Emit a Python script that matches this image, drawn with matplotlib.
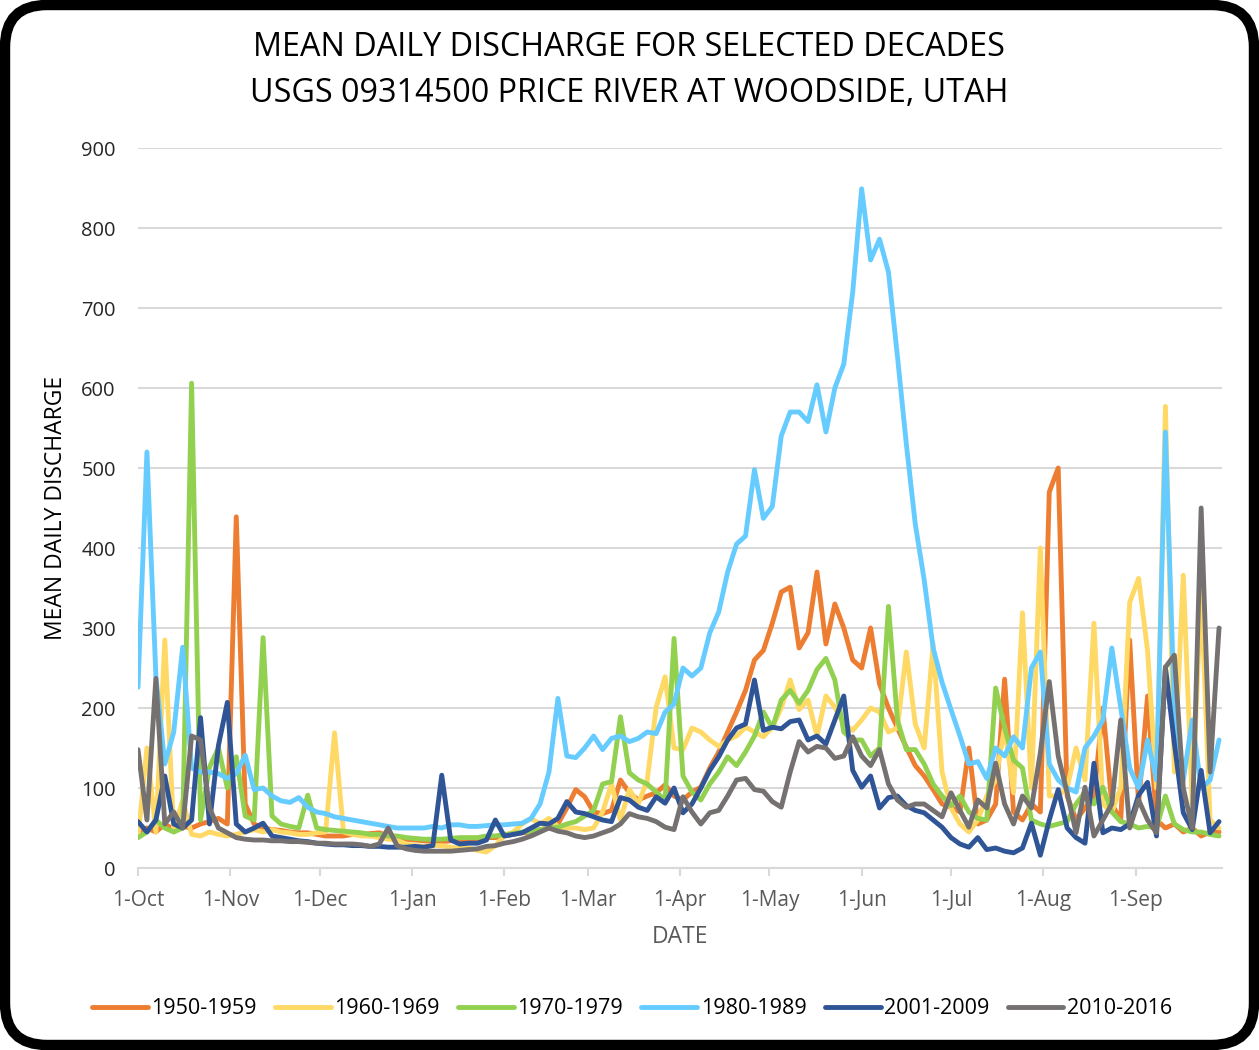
"""
Mean daily discharge for selected decades, Price River at Woodside, Utah.
Values read off the reference chart every third day of the water year.
"""
import numpy as np
import matplotlib
matplotlib.use('Agg')
import matplotlib.pyplot as plt
from matplotlib.patches import FancyBboxPatch

plt.rcParams['font.family'] = ['Open Sans', 'DejaVu Sans']

# day of water year (0 = 1-Oct), every third day
days = list(range(0, 364, 3))

month_starts = [0, 31, 61, 92, 123, 151, 182, 212, 243, 273, 304, 335]
month_labels = ['1-Oct', '1-Nov', '1-Dec', '1-Jan', '1-Feb', '1-Mar',
                '1-Apr', '1-May', '1-Jun', '1-Jul', '1-Aug', '1-Sep']

q_1950s = [45, 50, 45, 55, 48, 52, 50, 55, 58, 62,
           55, 439, 80, 55, 50, 48, 47, 45, 44, 44,
           42, 40, 40, 40, 42, 42, 43, 44, 40, 38,
           36, 35, 34, 33, 33, 34, 35, 36, 36, 38,
           38, 40, 42, 44, 45, 48, 50, 55, 75, 98,
           89, 70, 68, 72, 110, 94, 85, 90, 94, 104,
           90, 85, 95, 101, 125, 145, 170, 195, 222, 260,
           272, 306, 345, 351, 275, 294, 370, 280, 330, 300,
           260, 250, 300, 230, 200, 175, 151, 128, 115, 98,
           80, 76, 70, 150, 55, 60, 80, 236, 70, 60,
           80, 70, 470, 500, 90, 60, 75, 90, 200, 80,
           60, 285, 80, 215, 60, 50, 55, 45, 50, 40,
           45, 45]

q_1960s = [38, 150, 45, 285, 45, 85, 42, 40, 45, 42,
           40, 42, 45, 48, 45, 48, 45, 44, 42, 42,
           44, 45, 169, 45, 42, 40, 40, 38, 36, 35,
           30, 28, 27, 28, 28, 26, 25, 25, 22, 20,
           28, 40, 45, 55, 62, 55, 62, 52, 50, 50,
           48, 50, 70, 105, 60, 98, 80, 110, 201, 239,
           150, 148, 175, 170, 160, 152, 160, 165, 176, 170,
           164, 176, 200, 235, 198, 210, 165, 215, 201, 180,
           172, 185, 200, 195, 170, 175, 270, 180, 150, 280,
           120, 75, 55, 45, 60, 90, 110, 176, 94, 319,
           100, 400, 90, 90, 100, 150, 110, 306, 80, 70,
           100, 332, 362, 272, 100, 577, 120, 366, 80, 347,
           60, 50]

q_1970s = [38, 45, 60, 50, 45, 50, 606, 60, 126, 150,
           100, 139, 65, 60, 288, 65, 55, 52, 50, 91,
           50, 48, 47, 46, 45, 44, 42, 42, 40, 40,
           38, 37, 36, 36, 36, 37, 38, 38, 38, 40,
           40, 42, 43, 45, 46, 48, 50, 51, 55, 58,
           65, 72, 105, 108, 189, 119, 110, 105, 95, 85,
           287, 115, 95, 85, 105, 120, 139, 128, 145, 165,
           195, 175, 210, 222, 206, 222, 248, 262, 235, 170,
           160, 160, 140, 150, 327, 185, 148, 148, 130, 105,
           90, 78, 90, 70, 62, 60, 225, 175, 135, 125,
           60, 55, 52, 55, 58, 80, 95, 80, 101, 70,
           58, 55, 50, 52, 50, 90, 55, 48, 45, 45,
           42, 40]

q_1980s = [226, 520, 240, 130, 170, 276, 125, 120, 120, 118,
           112, 118, 141, 98, 100, 90, 84, 82, 88, 76,
           70, 68, 64, 62, 60, 58, 56, 54, 52, 50,
           50, 50, 50, 52, 50, 54, 54, 52, 52, 53,
           54, 54, 55, 56, 62, 80, 120, 212, 140, 138,
           150, 165, 148, 162, 165, 158, 162, 170, 168, 195,
           205, 250, 240, 250, 294, 320, 370, 405, 415, 498,
           437, 452, 540, 570, 570, 558, 604, 545, 600, 630,
           720, 849, 760, 786, 745, 640, 530, 430, 360, 275,
           232, 198, 165, 130, 133, 112, 150, 140, 164, 150,
           250, 270, 130, 110, 100, 95, 150, 165, 185, 275,
           200, 125, 100, 160, 110, 545, 200, 110, 185, 100,
           110, 160]

q_2000s = [58, 45, 60, 115, 55, 50, 60, 188, 55, 153,
           207, 55, 45, 50, 56, 40, 38, 36, 34, 33,
           31, 30, 29, 29, 28, 28, 27, 27, 26, 26,
           26, 27, 26, 28, 116, 35, 30, 31, 31, 35,
           60, 40, 42, 44, 50, 56, 55, 62, 83, 70,
           68, 64, 60, 58, 88, 85, 76, 72, 89, 81,
           100, 69, 80, 100, 122, 139, 160, 175, 180, 235,
           172, 176, 174, 183, 185, 160, 165, 155, 185, 215,
           122, 101, 115, 75, 88, 90, 78, 72, 69, 60,
           51, 38, 30, 26, 38, 23, 25, 21, 19, 25,
           56, 16, 60, 98, 50, 38, 31, 131, 44, 50,
           48, 55, 91, 107, 40, 251, 156, 69, 48, 122,
           44, 58]

q_2010s = [148, 60, 237, 55, 70, 50, 165, 160, 75, 50,
           44, 38, 36, 35, 35, 34, 34, 33, 33, 32,
           31, 31, 30, 30, 30, 29, 27, 30, 50, 28,
           24, 22, 21, 21, 21, 21, 22, 23, 24, 27,
           28, 31, 33, 36, 40, 45, 50, 46, 44, 40,
           38, 40, 44, 48, 55, 68, 64, 62, 58, 51,
           48, 89, 70, 55, 69, 72, 90, 110, 112, 98,
           96, 83, 76, 120, 158, 145, 152, 150, 137, 140,
           164, 140, 128, 148, 105, 85, 76, 80, 80, 72,
           64, 94, 72, 51, 85, 75, 131, 80, 55, 90,
           75, 144, 233, 140, 94, 44, 101, 40, 60, 80,
           185, 50, 85, 60, 44, 251, 266, 100, 50, 450,
           120, 300]

series = [
    ('1950-1959', q_1950s, '#ED7D31'),
    ('1960-1969', q_1960s, '#FFD966'),
    ('1970-1979', q_1970s, '#92D050'),
    ('1980-1989', q_1980s, '#66CCFF'),
    ('2001-2009', q_2000s, '#2F5597'),
    ('2010-2016', q_2010s, '#767171'),
]

W, H = 1259, 1050
fig = plt.figure(figsize=(W / 100, H / 100), dpi=100)
ax = fig.add_axes([138 / W, 1 - 868 / H, (1222 - 138) / W, (868 - 148) / H])

for name, vals, col in series:
    ax.plot(days, vals, color=col, lw=3.5, label=name,
            solid_joinstyle='round', solid_capstyle='round')

ax.set_xlim(0, 364)
ax.set_ylim(0, 900)
ax.set_yticks(np.arange(0, 901, 100))
ax.set_xticks(month_starts)
ax.set_xticklabels(month_labels)
ax.grid(True, axis='y', color='#D9D9D9', lw=1.5)
ax.set_axisbelow(True)
for s in ['top', 'right', 'left']:
    ax.spines[s].set_visible(False)
ax.spines['bottom'].set_color('#D9D9D9')
ax.spines['bottom'].set_linewidth(1.5)
ax.tick_params(axis='y', length=0, pad=16, labelsize=14.5, labelcolor='#262626')
ax.tick_params(axis='x', length=6, width=1.5, color='#D9D9D9', pad=10,
               labelsize=15, labelcolor='#595959')

# titles and axis labels
fig.text(629 / W, 1 - 48 / H, 'MEAN DAILY DISCHARGE FOR SELECTED DECADES',
         ha='center', va='center', fontsize=23.3)
fig.text(629 / W, 1 - 93 / H, 'USGS 09314500 PRICE RIVER AT WOODSIDE, UTAH',
         ha='center', va='center', fontsize=23.3)
fig.text(56 / W, 1 - 508 / H, 'MEAN DAILY DISCHARGE', rotation=90,
         ha='center', va='center', fontsize=16.5)
fig.text(680 / W, 1 - 937 / H, 'DATE', ha='center', va='center',
         fontsize=16.5, color='#595959')

fig.legend(loc='center', bbox_to_anchor=(632 / W, 1 - 1009 / H), ncol=6,
           frameon=False, fontsize=15.5, handlelength=2.6, handletextpad=0.15,
           columnspacing=0.85)

# rounded black frame round the chart
frame = FancyBboxPatch((0.05, 0.05), W / 100 - 0.1, H / 100 - 0.1,
                       boxstyle='round,pad=0,rounding_size=0.42',
                       transform=fig.dpi_scale_trans, fill=False,
                       ec='black', lw=7.5)
fig.patches.append(frame)

fig.savefig('out.png', dpi=100)
